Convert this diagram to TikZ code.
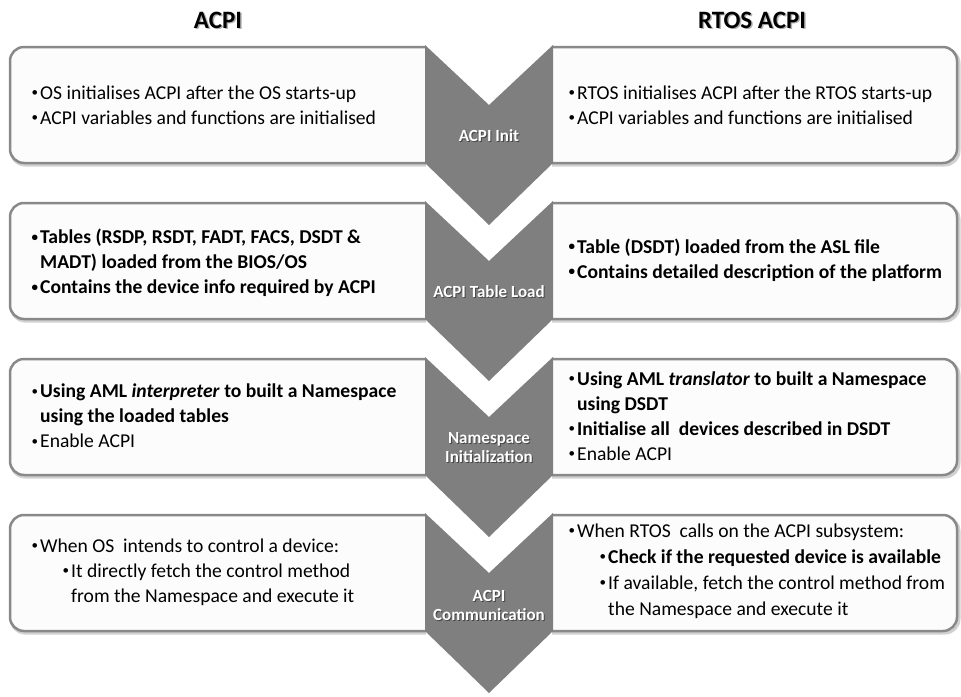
\documentclass[tikz,border=0pt]{standalone}
\usepackage{fontspec}
\setmainfont{Carlito}
\newlength{\bulw}
\setlength{\bulw}{10pt}
% small raised bullet followed by the text indent
\newcommand{\bl}{\makebox[\bulw][l]{\hspace{1.5pt}\raisebox{2.6pt}{\fontsize{13}{13}\selectfont\textbullet}}}
\newcommand{\bk}{\hspace*{\bulw}}
\newcommand{\sub}{\hspace*{31pt}}
\begin{document}
\begin{tikzpicture}[x=1pt,y=-1pt,
  panel/.style={draw={rgb,255:red,137;green,137;blue,137}, line width=2.5pt,
    fill={rgb,255:red,252;green,252;blue,252}, rounded corners=14pt},
  panelshadow/.style={draw=black, draw opacity=0.18, line width=3pt, rounded corners=14pt},
  chevfill/.style={fill={rgb,255:red,127;green,127;blue,127}},
  body/.style={inner sep=0pt, align=left, anchor=west, text=black,
    font=\fontsize{19.6}{25}\selectfont},
  steplabel/.style={text=white, font=\bfseries\fontsize{17}{19}\selectfont,
    align=center, inner sep=0pt},
  stepshadow/.style={steplabel, text=black, text opacity=0.45},
  heading/.style={font=\bfseries\fontsize{25}{28}\selectfont, inner sep=0pt, text=black},
  headshadow/.style={heading, text=black, text opacity=0.3},
  chev/.pic={\path[chevfill] (-64,0) -- (0,60) -- (64,0) -- (64,118) -- (0,180) -- (-64,118) -- cycle;}
]
\useasboundingbox (0,0) rectangle (961,696);
\fill[white] (0,0) rectangle (961,696);

% column headings
\node[headshadow] (tlsh) at (219.5,21.5) {ACPI};
\node[heading] (tl) at (218,20) {ACPI};
\node[headshadow] (trsh) at (753.5,21.5) {RTOS ACPI};
\node[heading] (tr) at (752,20) {RTOS ACPI};

% panels on both sides of each step
\foreach \t in {45,201,357,513}{
  \draw[panelshadow] (426,\t+4) -- (11,\t+4) -- (11,\t+120) -- (426,\t+120);
  \draw[panelshadow] (552,\t+4) -- (959,\t+4) -- (959,\t+120) -- (552,\t+120);
  \draw[panel] (426,\t+2) -- (10,\t+2) -- (10,\t+118) -- (426,\t+118);
  \draw[panel] (552,\t+2) -- (957,\t+2) -- (957,\t+118) -- (552,\t+118);
}

% step chevrons
\foreach \t in {45,201,357,513}{
  \pic at (489,\t) {chev};
}

% step labels
\node[stepshadow] (s1sh) at (490,137) {ACPI Init};
\node[steplabel] (s1) at (489,136) {ACPI Init};
\node[stepshadow] (s2sh) at (490,293) {ACPI Table Load};
\node[steplabel] (s2) at (489,292) {ACPI Table Load};
\node[stepshadow] (s3sh) at (490,449) {Namespace\\Initialization};
\node[steplabel] (s3) at (489,448) {Namespace\\Initialization};
\node[stepshadow] (s4sh) at (490,606) {ACPI\\Communication};
\node[steplabel] (s4) at (489,605) {ACPI\\Communication};

% ACPI Init
\node[body] (l1) at (30,105) {\bl OS initialises ACPI after the OS starts-up\\
  \bl ACPI variables and functions are initialised};
\node[body] (r1) at (567,105) {\bl RTOS initialises ACPI after the RTOS starts-up\\
  \bl ACPI variables and functions are initialised};

% ACPI Table Load
\node[body, font=\bfseries\fontsize{19.6}{25}\selectfont] (l2) at (30,263)
  {\bl Tables (RSDP, RSDT, FADT, FACS, DSDT \&\\
   \bk MADT) loaded from the BIOS/OS\\
   \bl Contains the device info required by ACPI};
\node[body, font=\bfseries\fontsize{19.6}{25}\selectfont] (r2) at (567,260)
  {\bl Table (DSDT) loaded from the ASL file\\
   \bl Contains detailed description of the platform};

% Namespace Initialization
\node[body] (l3) at (30,416)
  {\bl \textbf{Using AML \textit{interpreter} to built a Namespace}\\
   \bk \textbf{using the loaded tables}\\
   \bl Enable ACPI};
\node[body] (r3) at (567,416)
  {\bl \textbf{Using AML \textit{translator} to built a Namespace}\\
   \bk \textbf{using DSDT}\\
   \bl \textbf{Initialise all\ \ devices described in DSDT}\\
   \bl Enable ACPI};

% ACPI Communication
\node[body] (l4) at (30,572)
  {\bl When OS\ \ intends to control a device:\\
   \sub\bl It directly fetch the control method\\
   \sub\bk from the Namespace and execute it};
\node[body, font=\fontsize{19.6}{26}\selectfont] (r4) at (567,571)
  {\bl When RTOS\ \ calls on the ACPI subsystem:\\
   \sub\bl \textbf{Check if the requested device is available}\\
   \sub\bl If available, fetch the control method from\\
   \sub\bk the Namespace and execute it};
\end{tikzpicture}
\end{document}
